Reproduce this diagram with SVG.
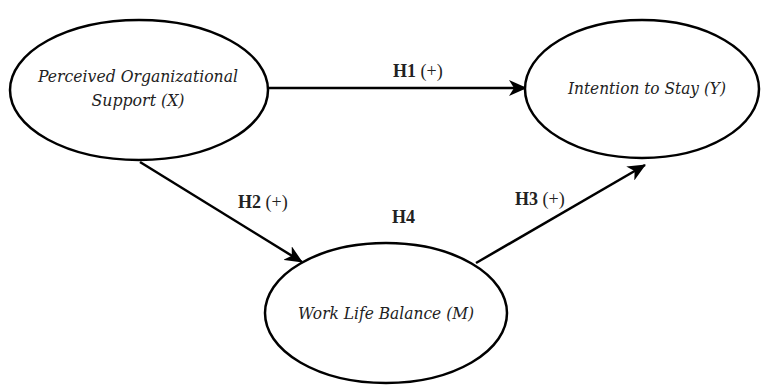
<svg xmlns="http://www.w3.org/2000/svg" width="761" height="386" viewBox="0 0 761 386">
<style>
.node ellipse{fill:#fff;stroke:#000;stroke-width:2.5}
.nt{font-family:"DejaVu Serif","Liberation Serif",serif;font-style:italic;font-size:16px;fill:#222;text-anchor:middle}
.lbl{font-family:"Liberation Serif","Times New Roman",serif;font-size:18px;fill:#222}
.b{font-weight:bold}
.edge{stroke:#000;stroke-width:2.5;fill:none;marker-end:url(#arr)}
</style>
<defs>
<marker id="arr" markerUnits="userSpaceOnUse" markerWidth="18" markerHeight="16" viewBox="0 0 18 16" refX="17" refY="8" orient="auto">
<path d="M0,0 L18,8 L0,16 L5,8 Z" fill="#000"/>
</marker>
</defs>
<rect width="761" height="386" fill="#fff"/>
<g id="connectors">
<line class="edge" x1="268" y1="88" x2="526" y2="88"/>
<line class="edge" x1="140" y1="162" x2="302" y2="262"/>
<line class="edge" x1="476" y1="263" x2="645" y2="165"/>
</g>
<g id="pos" class="node">
<ellipse cx="139" cy="90" rx="129" ry="70"/>
<text class="nt" x="138" y="82" textLength="200" lengthAdjust="spacingAndGlyphs">Perceived Organizational</text>
<text class="nt" x="138" y="106" textLength="93" lengthAdjust="spacingAndGlyphs">Support (X)</text>
</g>
<g id="its" class="node">
<ellipse cx="642" cy="89" rx="117" ry="69"/>
<text class="nt" x="647" y="94" textLength="158" lengthAdjust="spacingAndGlyphs">Intention to Stay (Y)</text>
</g>
<g id="wlb" class="node">
<ellipse cx="386" cy="313" rx="121" ry="70"/>
<text class="nt" x="386" y="319" textLength="176" lengthAdjust="spacingAndGlyphs">Work Life Balance (M)</text>
</g>
<g id="labels">
<text class="lbl" x="393" y="77"><tspan class="b">H1</tspan> (+)</text>
<text class="lbl" x="238" y="208"><tspan class="b">H2</tspan> (+)</text>
<text class="lbl" x="515" y="205"><tspan class="b">H3</tspan> (+)</text>
<text class="lbl b" x="392" y="223">H4</text>
</g>
</svg>
